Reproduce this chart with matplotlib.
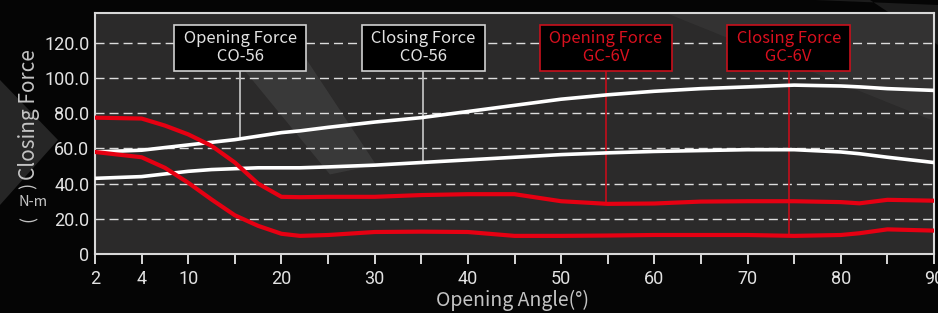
import numpy as np
import matplotlib.pyplot as plt
from matplotlib.patches import Polygon

# opening angle (deg) and forces (N-m)
angles = [2, 4, 7, 10, 12.5, 15, 17.5, 20, 22, 25, 30, 35, 40, 45, 50, 55, 60, 65, 70, 75, 80, 82, 85, 90]
open_co56 = [58, 59, 60.5, 62, 63.5, 65, 67, 69, 70, 72, 75, 77.5, 81, 84.5, 88, 90.5, 92.5, 94, 95, 96, 95.5, 95, 94, 93]
close_co56 = [43, 44, 45.5, 47, 48, 48.5, 49, 49, 49, 49.5, 50.5, 52, 53.5, 55, 56.5, 57.5, 58.3, 58.8, 59.3, 59.3, 58, 57, 55, 52]
open_gc6v = [77.5, 77, 73, 68, 61.5, 52, 40, 32.5, 32.3, 32.5, 32.5, 33.5, 34, 34, 30, 28.5, 28.7, 29.8, 30, 30, 29.5, 28.8, 30.8, 30.3]
close_gc6v = [58, 55, 49, 40.5, 31, 22, 16, 11.5, 10.3, 10.8, 12.5, 12.7, 12.5, 10.3, 10.3, 10.5, 10.8, 10.8, 10.8, 10.3, 10.8, 11.8, 14, 13.3]

xticks = [2, 4, 10, 20, 30, 40, 50, 60, 70, 80, 90]
xminor = [15, 25, 35, 45, 55, 65, 75, 85]
yticks = [0, 20, 40, 60, 80, 100, 120]
ylabels = ['0', '20.0', '40.0', '60.0', '80.0', '100.0', '120.0']

# callout labels: text, angle of leader line, curve, colour
callouts = [
    ('Opening Force\nCO-56', 15.6, open_co56, 'w'),
    ('Closing Force\nCO-56', 35.2, close_co56, 'w'),
    ('Opening Force\nGC-6V', 54.8, open_gc6v, 'r'),
    ('Closing Force\nGC-6V', 74.4, close_gc6v, 'r'),
]

RED = '#e60012'
TXT = '#e2e2e2'
LAB = '#c4c4c4'
font = ['Noto Sans CJK JP', 'DejaVu Sans']
numfont = 'Roboto'

# axis is stretched between 2..10
xa = [-100, 2, 4, 10, 90, 200]
xp = [-250, 0, 5, 10, 90, 200]
def fwd(a):
    return np.interp(a, xa, xp)
def inv(p):
    return np.interp(p, xp, xa)

fig = plt.figure(figsize=(9.38, 3.13), dpi=100, facecolor='#050505')
W, H = 938.0, 313.0

# background decoration outside the plot
fig.add_artist(Polygon([(0, 1 - 80 / H), (58 / W, 1 - 140 / H), (0, 1 - 205 / H)],
                       transform=fig.transFigure, fc='#262626', ec='none', zorder=-5))
fig.add_artist(Polygon([(815 / W, 1), (870 / W, 1), (938 / W, 1 - 45 / H), (938 / W, 1 - 5 / H)],
                       transform=fig.transFigure, fc='#1c1c1c', ec='none', zorder=-5))

ax = fig.add_axes([95 / W, 59 / H, 839 / W, 241 / H])
ax.set_facecolor('#2b2a2a')
ax.set_xscale('function', functions=(fwd, inv))
ax.set_xlim(2, 90)
ax.set_ylim(0, 137)

# light diagonal slab inside plot
ax.add_patch(Polygon([(0.155, 0.86), (0.225, 0.95), (0.335, 0.37), (0.28, 0.33)],
                     transform=ax.transAxes, fc='white', alpha=0.07, ec='none', zorder=0.5))
ax.add_patch(Polygon([(0.68, 1), (1, 1), (1, 0.55)],
                     transform=ax.transAxes, fc='white', alpha=0.04, ec='none', zorder=0.5))

ax.plot(angles, open_co56, color='white', lw=2.6, zorder=4)
ax.plot(angles, close_co56, color='white', lw=2.6, zorder=4)
ax.plot(angles, open_gc6v, color=RED, lw=3.0, zorder=4)
ax.plot(angles, close_gc6v, color=RED, lw=3.0, zorder=4)

for txt, xpos, curve, c in callouts:
    lc = '#bdbdbd' if c == 'w' else '#b8101c'
    tc = TXT if c == 'w' else '#d8101e'
    ec = '#d0d0d0' if c == 'w' else '#c8101c'
    yend = np.interp(xpos, angles, curve)
    ax.plot([xpos, xpos], [yend, 110], color=lc, lw=1.3, zorder=3)
    padded = '\n'.join(' ' + s + ' ' for s in txt.split('\n'))
    ax.text(xpos, 117.3, padded, ha='center', va='center', color=tc, fontsize=12,
            family=font, linespacing=1.1, zorder=6,
            bbox=dict(boxstyle='square,pad=0.33', fc='black', ec=ec, lw=1.2))

ax.set_yticks(yticks)
ax.set_yticklabels(ylabels)
ax.yaxis.grid(True, color='#dcdcdc', lw=1.0, linestyle=(0, (6.5, 3.6)))
ax.set_axisbelow(True)
ax.set_xticks(xticks)
ax.set_xticklabels([str(t) for t in xticks])
ax.set_xticks(xminor, minor=True)
ax.tick_params(axis='x', which='both', direction='out', length=7.5, width=1.4,
               color='#d8d8d8', labelcolor=TXT, labelsize=13, pad=4)
ax.tick_params(axis='y', length=0, labelcolor=TXT, labelsize=13, pad=4)
for lab in ax.get_xticklabels() + ax.get_yticklabels():
    lab.set_family(numfont)
for s in ax.spines.values():
    s.set_color('#d8d8d8')
    s.set_linewidth(1.5)

fig.text(513 / W, 1 - 300 / H, 'Opening Angle(°)', ha='center', va='center',
         color=LAB, fontsize=14, family=font)

# y label: rotated words, upright unit
fig.text(29 / W, 1 - 115 / H, 'Closing Force', rotation=90, ha='center', va='center',
         color=LAB, fontsize=15, family=font)
fig.text(29 / W, 1 - 186 / H, ')', rotation=90, ha='center', va='center',
         color=LAB, fontsize=13, family=font)
fig.text(33 / W, 1 - 202 / H, 'N-m', ha='center', va='center',
         color=LAB, fontsize=10.5, family=font)
fig.text(29 / W, 1 - 219 / H, '(', rotation=90, ha='center', va='center',
         color=LAB, fontsize=13, family=font)

fig.savefig('out.png', dpi=100, facecolor=fig.get_facecolor())
